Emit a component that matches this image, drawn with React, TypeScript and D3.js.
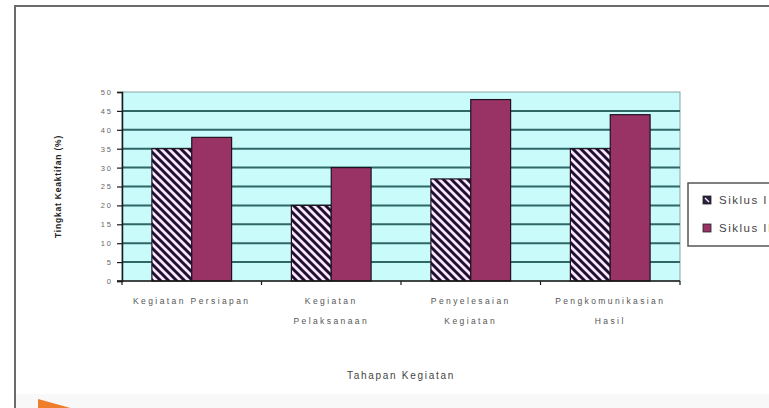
import { useEffect, useRef } from "react";
import * as d3 from "d3";

// chart values
const categories = [
  "Kegiatan Persiapan",
  "Kegiatan Pelaksanaan",
  "Penyelesaian Kegiatan",
  "Pengkomunikasian Hasil",
];
const categoryLines = [
  ["Kegiatan Persiapan"],
  ["Kegiatan", "Pelaksanaan"],
  ["Penyelesaian", "Kegiatan"],
  ["Pengkomunikasian", "Hasil"],
];
const seriesNames = ["Siklus I", "Siklus II"];
const siklus1 = [35, 20, 27, 35];
const siklus2 = [38, 30, 48, 44];
const yTicks = [0, 5, 10, 15, 20, 25, 30, 35, 40, 45, 50];

const FONT = "'Liberation Sans', Arial, sans-serif";

const App = () => {
  const ref = useRef<SVGSVGElement>(null);

  useEffect(() => {
    const svg = d3.select(ref.current);
    svg.selectAll("*").remove();

    const plot = { left: 122, right: 680, top: 92, bottom: 281 };

    const x0 = d3
      .scaleBand<string>()
      .domain(categories)
      .range([plot.left, plot.right])
      .paddingInner(0)
      .paddingOuter(0);
    const x1 = d3
      .scaleBand<string>()
      .domain(seriesNames)
      .range([0, x0.bandwidth()])
      .paddingInner(0)
      .paddingOuter(0.75);
    const y = d3.scaleLinear().domain([0, 50]).range([plot.bottom, plot.top]);

    // hatch pattern for Siklus I
    const defs = svg.append("defs");
    const pat = defs
      .append("pattern")
      .attr("id", "hatch")
      .attr("patternUnits", "userSpaceOnUse")
      .attr("width", 8)
      .attr("height", 8);
    pat.append("rect").attr("width", 8).attr("height", 8).attr("fill", "#fde4fa");
    pat
      .append("path")
      .attr("d", "M0,0 L8,8 M-2,6 L2,10 M6,-2 L10,2")
      .attr("stroke", "#1a1230")
      .attr("stroke-width", 2.9);

    // outer frame
    svg
      .append("rect")
      .attr("x", 16)
      .attr("y", 394)
      .attr("width", 753)
      .attr("height", 14)
      .attr("fill", "#f8f8f8");
    svg
      .append("path")
      .attr("d", "M15,408 L15,6 L769,6")
      .attr("fill", "none")
      .attr("stroke", "#6a6a6a")
      .attr("stroke-width", 2);

    // plot background
    svg
      .append("rect")
      .attr("x", plot.left)
      .attr("y", plot.top)
      .attr("width", plot.right - plot.left)
      .attr("height", plot.bottom - plot.top)
      .attr("fill", "#c9fbfb")
      .attr("stroke", "#8aa6a6")
      .attr("stroke-width", 1);

    // gridlines
    svg
      .append("g")
      .selectAll("line")
      .data(yTicks.filter((t) => t > 0 && t < 50))
      .join("line")
      .attr("x1", plot.left)
      .attr("x2", plot.right)
      .attr("y1", (d) => y(d))
      .attr("y2", (d) => y(d))
      .attr("stroke", "#2f6666")
      .attr("stroke-width", 2);

    // bars
    const allSeries = [siklus1, siklus2];
    const fills = ["url(#hatch)", "#993366"];
    allSeries.forEach((vals, si) => {
      svg
        .append("g")
        .selectAll("rect")
        .data(vals)
        .join("rect")
        .attr("x", (_, i) => (x0(categories[i]) as number) + (x1(seriesNames[si]) as number))
        .attr("y", (d) => y(d))
        .attr("width", x1.bandwidth())
        .attr("height", (d) => y(0) - y(d))
        .attr("fill", fills[si])
        .attr("stroke", "#1e1420")
        .attr("stroke-width", 1.2);
    });

    // y axis
    const yAxis = d3
      .axisLeft(y)
      .tickValues(yTicks)
      .tickSize(5)
      .tickFormat((d) => String(d));
    const ya = svg
      .append("g")
      .attr("transform", `translate(${plot.left},0)`)
      .call(yAxis);
    ya.select(".domain").attr("stroke", "#1a1a1a").attr("stroke-width", 1.5);
    ya.selectAll(".tick line").attr("stroke", "#1a1a1a").attr("stroke-width", 1.2);
    ya.selectAll(".tick text")
      .attr("x", -9)
      .attr("fill", "#666")
      .style("font-family", FONT)
      .style("font-size", "7.5px")
      .style("letter-spacing", "2px");

    // x axis
    svg
      .append("line")
      .attr("x1", plot.left - 5)
      .attr("x2", plot.right)
      .attr("y1", plot.bottom)
      .attr("y2", plot.bottom)
      .attr("stroke", "#1a1a1a")
      .attr("stroke-width", 1.5);
    svg
      .append("g")
      .selectAll("line")
      .data([...categories.map((c) => x0(c) as number), plot.right])
      .join("line")
      .attr("x1", (d) => d)
      .attr("x2", (d) => d)
      .attr("y1", plot.bottom)
      .attr("y2", plot.bottom + 4)
      .attr("stroke", "#1a1a1a")
      .attr("stroke-width", 1.2);

    // category labels
    const lab = svg
      .append("g")
      .selectAll("text")
      .data(categoryLines)
      .join("text")
      .attr("text-anchor", "middle")
      .attr("fill", "#555")
      .style("font-family", FONT)
      .style("font-size", "8.5px")
      .style("letter-spacing", "2.4px");
    lab.each(function (lines, i) {
      const cx = (x0(categories[i]) as number) + x0.bandwidth() / 2;
      d3.select(this)
        .selectAll("tspan")
        .data(lines)
        .join("tspan")
        .attr("x", cx)
        .attr("y", (_, j) => 304 + j * 20)
        .text((d) => d);
    });

    // axis titles
    svg
      .append("text")
      .attr("x", (plot.left + plot.right) / 2)
      .attr("y", 379)
      .attr("text-anchor", "middle")
      .attr("fill", "#444")
      .style("font-family", FONT)
      .style("font-size", "10px")
      .style("letter-spacing", "1.7px")
      .text("Tahapan Kegiatan");

    svg
      .append("text")
      .attr("transform", `translate(61,${(plot.top + plot.bottom) / 2}) rotate(-90)`)
      .attr("text-anchor", "middle")
      .attr("fill", "#222")
      .style("font-family", FONT)
      .style("font-size", "8.5px")
      .style("font-weight", "bold")
      .style("letter-spacing", "0.8px")
      .text("Tingkat Keaktifan (%)");

    // legend (cut by the right edge, as in the picture)
    const lg = svg.append("g");
    lg.append("rect")
      .attr("x", 688)
      .attr("y", 183)
      .attr("width", 100)
      .attr("height", 63)
      .attr("fill", "#fff")
      .attr("stroke", "#555")
      .attr("stroke-width", 1.5);
    seriesNames.forEach((name, i) => {
      const yy = 200 + i * 28;
      lg.append("rect")
        .attr("x", 703)
        .attr("y", yy - 4)
        .attr("width", 8)
        .attr("height", 8)
        .attr("fill", i === 0 ? "#2a2040" : fills[1])
        .attr("stroke", "#222")
        .attr("stroke-width", 0.8);
      if (i === 0) {
        lg.append("path")
          .attr("d", `M${705},${yy - 2} L${709},${yy + 2}`)
          .attr("stroke", "#fde4fa")
          .attr("stroke-width", 1.5);
      }
      lg.append("text")
        .attr("x", 719)
        .attr("y", yy + 4)
        .attr("fill", "#444")
        .style("font-family", FONT)
        .style("font-size", "11.5px")
        .style("letter-spacing", "1.5px")
        .text(name);
    });

    // orange arrow corner
    svg
      .append("polygon")
      .attr("points", "38,399 150,430 38,460")
      .attr("fill", "#ee7d2c");
  }, []);

  return (
    <svg
      ref={ref}
      width={769}
      height={408}
      style={{ position: "fixed", left: 0, top: 0, background: "#fff" }}
    />
  );
};

export default App;
